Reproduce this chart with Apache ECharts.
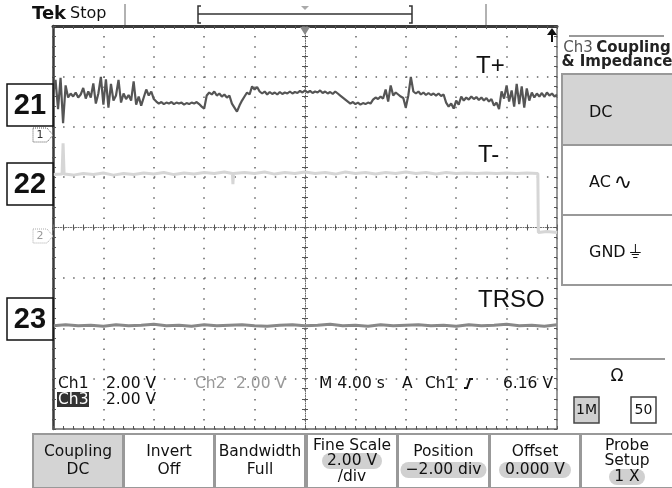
<!DOCTYPE html>
<html>
<head>
<meta charset="utf-8">
<title>Tek Ch3 Coupling</title>
<script src="https://cdn.jsdelivr.net/npm/echarts@6.0.0/dist/echarts.min.js"></script>
<style>
    html, body { margin: 0; padding: 0; background: #fff; }
    #main { width: 672px; height: 488px; }
</style>
</head>
<body>
<div id="main"></div>
<script>
//示波器截图 (单位: div), 时间轴 -5 ~ 5 div, 电压轴 -4 ~ 4 div

//Ch1 (T+) 每 0.05 div 一个采样
var ch1Start = -5;
var ch1Step = 0.05;
var ch1Div = [
    2.63, 2.93, 2.35, 2.97, 2.07, 2.82, 2.58, 2.66, 2.60, 2.68,
    2.58, 2.64, 2.77, 2.56, 2.70, 2.58, 2.86, 2.46, 2.66, 2.99,
    2.44, 2.94, 2.38, 2.85, 2.52, 2.62, 2.93, 2.48, 2.66, 2.55,
    2.63, 2.52, 2.90, 2.44, 2.60, 2.42, 2.58, 2.74, 2.62, 2.70,
    2.55, 2.50, 2.46, 2.49, 2.45, 2.48, 2.46, 2.49, 2.45, 2.48,
    2.46, 2.48, 2.44, 2.47, 2.45, 2.48, 2.46, 2.49, 2.45, 2.40,
    2.36, 2.62, 2.68, 2.64, 2.70, 2.62, 2.66, 2.60, 2.64, 2.58,
    2.62, 2.46, 2.38, 2.30, 2.42, 2.52, 2.60, 2.68, 2.64, 2.80,
    2.74, 2.79, 2.70, 2.66, 2.70, 2.64, 2.69, 2.65, 2.68, 2.64,
    2.69, 2.65, 2.68, 2.66, 2.70, 2.66, 2.69, 2.67, 2.71, 2.68,
    2.72, 2.68, 2.71, 2.67, 2.70, 2.68, 2.72, 2.67, 2.70, 2.66,
    2.69, 2.65, 2.70, 2.66, 2.62, 2.58, 2.54, 2.50, 2.46, 2.49,
    2.45, 2.48, 2.44, 2.47, 2.45, 2.48, 2.46, 2.54, 2.58, 2.55,
    2.60, 2.56, 2.74, 2.50, 2.82, 2.62, 2.68, 2.64, 2.60, 2.57,
    2.38, 2.62, 2.99, 2.70, 2.66, 2.70, 2.64, 2.68, 2.63, 2.67,
    2.63, 2.66, 2.62, 2.66, 2.61, 2.64, 2.48, 2.40, 2.46, 2.36,
    2.52, 2.44, 2.60, 2.52, 2.58, 2.54, 2.60, 2.55, 2.59, 2.53,
    2.58, 2.52, 2.57, 2.50, 2.55, 2.42, 2.48, 2.35, 2.70, 2.56,
    2.82, 2.50, 2.72, 2.40, 2.85, 2.45, 2.80, 2.38, 2.76, 2.52,
    2.68, 2.58, 2.66, 2.60, 2.67, 2.59, 2.68, 2.62, 2.66, 2.60, 2.64
];

//Ch2 (T-)
var ch2Time = [
    -5.00, -4.82, -4.80, -4.78, -4.60, -4.40, -4.20, -4.00, -3.80, -3.60,
    -3.40, -3.20, -3.00, -2.80, -2.60, -2.40, -2.20, -2.00, -1.80, -1.60,
    -1.44, -1.43, -1.42, -1.20, -1.00, -0.80, -0.60, -0.40, -0.20, 0.00,
    0.20, 0.40, 0.60, 0.80, 1.00, 1.20, 1.40, 1.60, 1.80, 2.00,
    2.20, 2.40, 2.60, 2.80, 3.00, 3.20, 3.40, 3.60, 3.80, 4.00,
    4.20, 4.40, 4.62, 4.63, 4.80, 5.00
];
var ch2Div = [
    1.05, 1.06, 1.67, 1.06, 1.04, 1.07, 1.05, 1.08, 1.04, 1.07,
    1.05, 1.08, 1.06, 1.09, 1.05, 1.08, 1.06, 1.09, 1.07, 1.10,
    1.07, 0.86, 1.07, 1.09, 1.07, 1.10, 1.06, 1.09, 1.07, 1.10,
    1.07, 1.09, 1.06, 1.10, 1.07, 1.09, 1.06, 1.09, 1.07, 1.10,
    1.07, 1.09, 1.06, 1.09, 1.07, 1.08, 1.07, 1.08, 1.07, 1.08,
    1.07, 1.08, 1.07, -0.10, -0.08, -0.10
];

//Ch3 (TRSO) 每 0.25 div 一个采样
var ch3Start = -5;
var ch3Step = 0.25;
var ch3Div = [
    -1.95, -1.93, -1.95, -1.94, -1.96, -1.93, -1.95, -1.94, -1.92, -1.95,
    -1.94, -1.96, -1.93, -1.95, -1.94, -1.93, -1.95, -1.96, -1.94, -1.93,
    -1.95, -1.94, -1.92, -1.95, -1.94, -1.96, -1.93, -1.95, -1.94, -1.93,
    -1.95, -1.94, -1.96, -1.93, -1.95, -1.94, -1.92, -1.95, -1.94, -1.96,
    -1.93
];

//文字
var traceNames = ['T+', 'T-', 'TRSO'];
var figureLabels = ['21', '22', '23'];
var readoutCh = ['Ch1', 'Ch2', 'Ch3'];
var readoutScale = ['2.00 V', '2.00 V', '2.00 V'];
var readoutTime = 'M 4.00 s';
var readoutTrig = ['A', 'Ch1', '6.16 V'];
var sideButtons = [['DC', ''], ['AC', '\u223F'], ['GND', '\u23DA']];
var impedance = ['1M', '50'];
var bottomButtons = [
    ['Coupling', 'DC'],
    ['Invert', 'Off'],
    ['Bandwidth', 'Full'],
    ['Fine Scale', '2.00 V', '/div'],
    ['Position', '\u22122.00 div'],
    ['Offset', '0.000 V'],
    ['Probe', 'Setup', '1 X']
];

var tekFont = '"DejaVu Sans", "Noto Sans", sans-serif';
var armFont = '"Liberation Sans", Arial, sans-serif';

function toPairs(start, step, arr) {
    return arr.map(function (v, i) {
        return [start + i * step, v];
    });
}

function zip(a, b) {
    return a.map(function (v, i) {
        return [v, b[i]];
    });
}

//文字元素
function txt(x, y, s, font, fill, align) {
    return {
        type: 'text',
        z: 100,
        style: {
            text: s, x: x, y: y, font: font, fill: fill || '#111',
            align: align || 'left', textAlign: align || 'left',
            verticalAlign: 'middle', textVerticalAlign: 'middle'
        }
    };
}

//矩形元素
function box(x, y, w, h, fill, stroke, lw, r) {
    return {
        type: 'rect',
        z: 90,
        shape: { x: x, y: y, width: w, height: h, r: r || 0 },
        style: { fill: fill, stroke: stroke || null, lineWidth: lw || 0 }
    };
}

function line(pts, stroke, lw, dash) {
    return {
        type: 'polyline',
        z: 95,
        shape: { points: pts },
        style: { stroke: stroke, lineWidth: lw, fill: null, lineDash: dash || null }
    };
}

//坐标轴
function axis(extra) {
    var base = {
        type: 'value',
        axisLabel: { show: false },
        splitLine: { show: false },
        axisTick: { show: true, inside: true, length: 3, lineStyle: { color: '#555', width: 1 } },
        minorTick: { show: true, splitNumber: 5, length: 3, lineStyle: { color: '#555', width: 1 } }
    };
    return Object.assign(base, extra);
}

var xRange = { min: -5, max: 5, interval: 1 };
var yRange = { min: -4, max: 4, interval: 1 };

var xAxes = [
    axis(Object.assign({
        position: 'bottom',
        axisLine: { show: true, onZero: false, lineStyle: { color: '#666', width: 1.5 } },
        splitLine: { show: true, lineStyle: { color: '#666', width: 1.5, type: [1.5, 8.58] } }
    }, xRange)),
    axis(Object.assign({
        position: 'top',
        axisLine: { show: true, onZero: false, lineStyle: { color: '#3a3a3a', width: 3 } }
    }, xRange)),
    axis(Object.assign({
        position: 'bottom',
        axisLine: { show: true, onZero: true, onZeroAxisIndex: 0, lineStyle: { color: '#666', width: 1, type: [1, 1.5] } },
        axisTick: { show: true, inside: false, length: 3, lineStyle: { color: '#666' } }
    }, xRange)),
    axis(Object.assign({
        position: 'top',
        axisLine: { show: false, onZero: true, onZeroAxisIndex: 0 },
        axisTick: { show: true, inside: false, length: 3, lineStyle: { color: '#666' } }
    }, xRange))
];

var yAxes = [
    axis(Object.assign({
        position: 'left',
        axisLine: { show: true, onZero: false, lineStyle: { color: '#3a3a3a', width: 2.5 } },
        splitLine: { show: true, lineStyle: { color: '#666', width: 1.5, type: [1.5, 8.58] } }
    }, yRange)),
    axis(Object.assign({
        position: 'right',
        axisLine: { show: true, onZero: false, lineStyle: { color: '#777', width: 1.5 } }
    }, yRange)),
    axis(Object.assign({
        position: 'left',
        axisLine: { show: true, onZero: true, onZeroAxisIndex: 0, lineStyle: { color: '#666', width: 1, type: [1, 1.5] } },
        axisTick: { show: true, inside: false, length: 3, lineStyle: { color: '#666' } }
    }, yRange)),
    axis(Object.assign({
        position: 'right',
        axisLine: { show: false, onZero: true, onZeroAxisIndex: 0 },
        axisTick: { show: true, inside: false, length: 3, lineStyle: { color: '#666' } }
    }, yRange))
];

//装饰: 顶栏, 右侧菜单, 底部按钮, 标签
var g = [];

//顶栏
g.push(txt(32, 14, 'Tek', 'bold 18px ' + tekFont, '#111'));
g.push(txt(70, 14, 'Stop', '16px ' + tekFont, '#111'));
g.push(line([[125, 4], [125, 25]], '#999', 1.5));
g.push(line([[486, 4], [486, 25]], '#999', 1.5));
g.push(line([[201, 6], [198, 6], [198, 23], [201, 23]], '#333', 1.5));
g.push(line([[409, 6], [412, 6], [412, 23], [409, 23]], '#333', 1.5));
g.push(line([[198, 14], [412, 14]], '#333', 1.5));
g.push({ type: 'polygon', z: 95, shape: { points: [[301, 6], [309, 6], [305, 10]] }, style: { fill: '#aaa' } });
//触发位置
g.push({ type: 'polygon', z: 95, shape: { points: [[300, 27], [310, 27], [305, 35]] }, style: { fill: '#888' } });
//右上角箭头
g.push({ type: 'polygon', z: 95, shape: { points: [[547, 35], [552, 28], [557, 35]] }, style: { fill: '#111' } });
g.push(line([[552, 33], [552, 42]], '#111', 2));

//通道标记
g.push({ type: 'polygon', z: 95, shape: { points: [[33, 128], [47, 128], [53, 135], [47, 142], [33, 142]] },
    style: { fill: '#fff', stroke: '#555', lineWidth: 1, lineDash: [1, 1] } });
g.push(txt(40, 135, '1', '11px ' + tekFont, '#333', 'center'));
g.push({ type: 'polygon', z: 95, shape: { points: [[33, 229], [47, 229], [53, 236], [47, 243], [33, 243]] },
    style: { fill: '#fff', stroke: '#aaa', lineWidth: 1, lineDash: [1, 1] } });
g.push(txt(40, 236, '2', '11px ' + tekFont, '#999', 'center'));

//图号方框
var labelBoxY = [84, 163, 298];
figureLabels.forEach(function (s, i) {
    g.push(box(7, labelBoxY[i], 46, 42, '#fff', '#111', 1.5));
    g.push(txt(30, labelBoxY[i] + 22, s, 'bold 29px ' + armFont, '#111', 'center'));
});

//波形名称
g.push(txt(476, 66, traceNames[0], '24px ' + armFont, '#111'));
g.push(txt(478, 155, traceNames[1], '24px ' + armFont, '#111'));
g.push(txt(478, 300, traceNames[2], '24px ' + armFont, '#111'));

//读数
var roFont = '15.5px ' + tekFont;
g.push(txt(58, 384, readoutCh[0], roFont, '#111'));
g.push(txt(106, 384, readoutScale[0], roFont, '#111'));
g.push(txt(195, 384, readoutCh[1], roFont, '#999'));
g.push(txt(236, 384, readoutScale[1], roFont, '#999'));
g.push(txt(319, 384, readoutTime, roFont, '#111'));
g.push(txt(402, 384, readoutTrig[0], roFont, '#111'));
g.push(txt(425, 384, readoutTrig[1], roFont, '#111'));
g.push(line([[464, 388], [467, 388], [470, 379], [473, 379]], '#111', 2));
g.push(txt(553, 384, readoutTrig[2], roFont, '#111', 'right'));
g.push(box(57, 392, 32, 15, '#333'));
g.push(txt(58, 399.5, readoutCh[2], roFont, '#fff'));
g.push(txt(106, 399.5, readoutScale[2], roFont, '#111'));

//右侧菜单
g.push(line([[569, 36], [664, 36]], '#777', 1.5));
g.push({
    type: 'text', z: 100,
    style: {
        text: '{a|Ch3} {b|Coupling}', x: 617, y: 48,
        align: 'center', textAlign: 'center', verticalAlign: 'middle', textVerticalAlign: 'middle',
        rich: {
            a: { font: '15px ' + tekFont, fill: '#555' },
            b: { font: 'bold 15px ' + tekFont, fill: '#222' }
        }
    }
});
g.push(txt(617, 62, '& Impedance', 'bold 15px ' + tekFont, '#222', 'center'));
var sideY = [74, 145, 215];
var sideH = [71, 70, 70];
var sideFill = ['#d4d4d4', '#fff', '#fff'];
sideButtons.forEach(function (s, i) {
    g.push(box(562, sideY[i], 112, sideH[i], sideFill[i], '#999', 2));
    g.push({
        type: 'text', z: 100,
        style: {
            text: '{a|' + s[0] + '}' + (s[1] ? '{b|' + s[1] + '}' : ''),
            x: 589, y: sideY[i] + sideH[i] / 2 + 3,
            align: 'left', textAlign: 'left', verticalAlign: 'middle', textVerticalAlign: 'middle',
            rich: {
                a: { font: '16px ' + tekFont, fill: '#111' },
                b: { font: (i === 1 ? '22px ' : '18px ') + tekFont, fill: '#111', padding: [0, 0, 0, 3] }
            }
        }
    });
});
g.push(line([[570, 359], [665, 359]], '#777', 1.5));
g.push(txt(617, 377, '\u03A9', '17px ' + tekFont, '#111', 'center'));
g.push(box(574, 397, 25, 26, '#d0d0d0', '#444', 1.5));
g.push(txt(586.5, 410, impedance[0], '14px ' + tekFont, '#111', 'center'));
g.push(box(631, 397, 25, 26, '#fff', '#444', 1.5));
g.push(txt(643.5, 410, impedance[1], '14px ' + tekFont, '#111', 'center'));

//底部按钮
var btnX = [33, 124, 215, 307, 398, 490, 581];
var btnW = [90, 90, 90, 90, 91, 90, 92];
var btnFont = '15.5px ' + tekFont;
bottomButtons.forEach(function (b, i) {
    var cx = btnX[i] + btnW[i] / 2;
    g.push(box(btnX[i], 434, btnW[i], 54, i === 0 ? '#d4d4d4' : '#fff', '#999', 2));
    if (b.length === 2) {
        var pill = i >= 4;
        if (pill) {
            var pw = i === 4 ? 86 : 72;
            g.push(box(cx - pw / 2, 462, pw, 16, '#d0d0d0', null, 0, 8));
        }
        g.push(txt(cx, 452, b[0], btnFont, '#111', 'center'));
        g.push(txt(cx, 470, b[1], btnFont, '#111', 'center'));
    } else {
        var pillRow = i === 3 ? 1 : 2;
        var pillW = i === 3 ? 60 : 36;
        var rowY = [446, 461, 477];
        g.push(box(cx - pillW / 2, rowY[pillRow] - 8, pillW, 16, '#d0d0d0', null, 0, 8));
        b.forEach(function (s, k) {
            g.push(txt(cx, rowY[k], s, btnFont, '#111', 'center'));
        });
    }
});

var chart = echarts.init(document.getElementById('main'), null, { renderer: 'canvas' });

var option = {
    backgroundColor: '#fff',
    animation: false,
    grid: { left: 53, top: 26, width: 504, height: 403, outerBoundsMode: 'none', containLabel: false },
    xAxis: xAxes,
    yAxis: yAxes,
    series: [
        {
            name: 'T-', type: 'line', xAxisIndex: 0, yAxisIndex: 0,
            data: zip(ch2Time, ch2Div), symbol: 'none', silent: true,
            lineStyle: { color: '#d6d6d6', width: 3 }, z: 3
        },
        {
            name: 'TRSO', type: 'line', xAxisIndex: 0, yAxisIndex: 0,
            data: toPairs(ch3Start, ch3Step, ch3Div), symbol: 'none', silent: true,
            lineStyle: { color: '#888', width: 3 }, z: 4
        },
        {
            name: 'T+', type: 'line', xAxisIndex: 0, yAxisIndex: 0,
            data: toPairs(ch1Start, ch1Step, ch1Div), symbol: 'none', silent: true,
            lineStyle: { color: '#555', width: 2.2, join: 'bevel' }, z: 5
        }
    ],
    graphic: { elements: g }
};

chart.setOption(option);
</script>
</body>
</html>
